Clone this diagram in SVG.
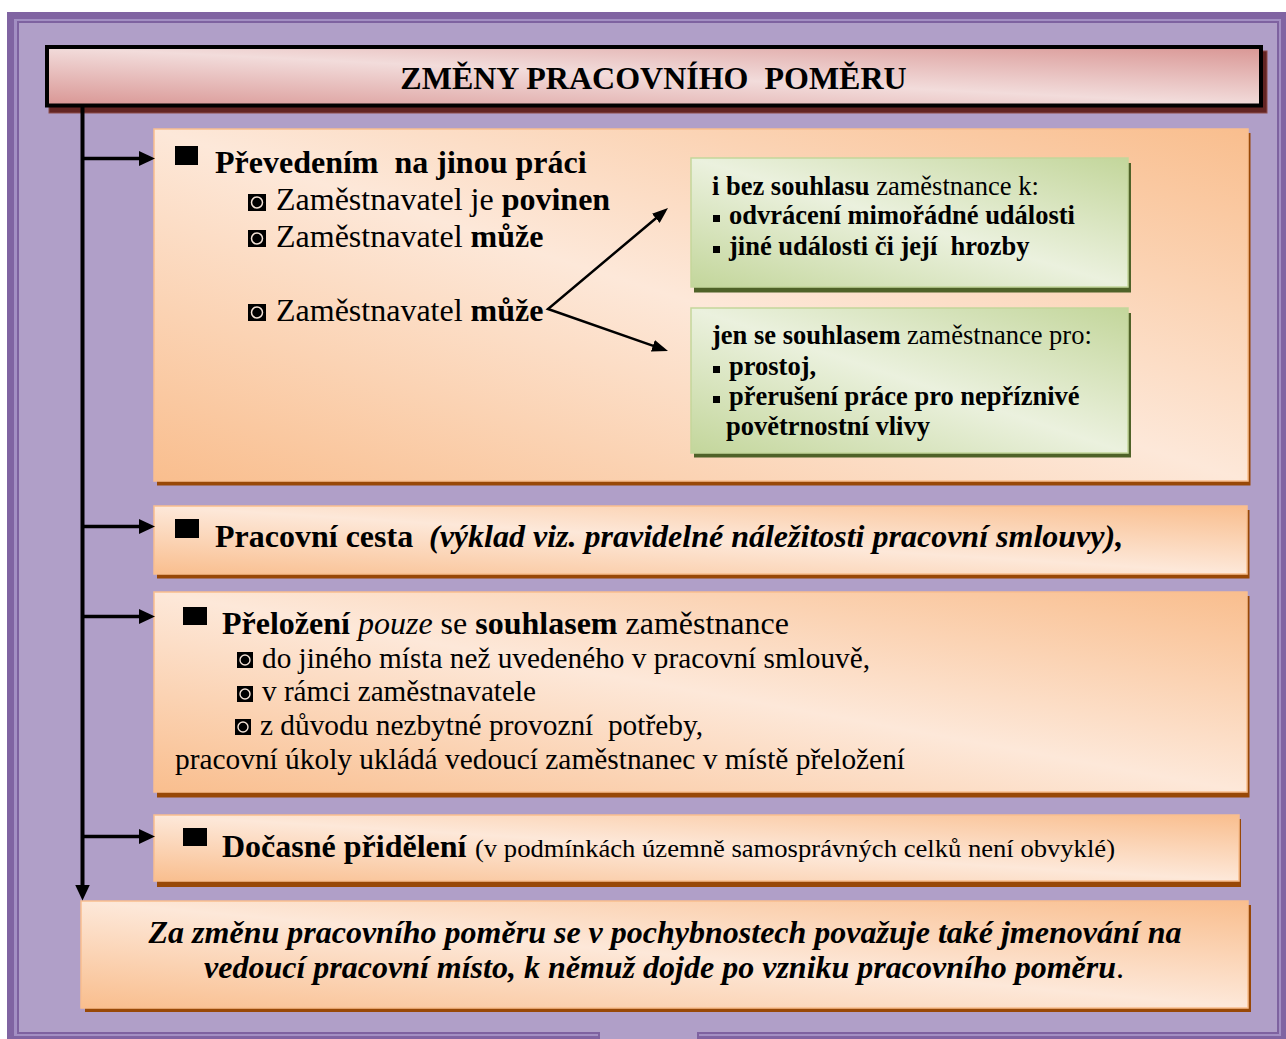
<svg xmlns="http://www.w3.org/2000/svg" width="1286" height="1039" viewBox="0 0 1286 1039">
<style>
.t{font-family:"Liberation Serif","Times New Roman",serif;fill:#000;white-space:pre}
.b{font-weight:bold}
.i{font-style:italic}
.r{font-weight:normal;font-style:normal}
.osh{fill:#984807}
.obox{fill:url(#gO);stroke:#F9BE8E;stroke-width:1.5}
.gsh{fill:#4F6228}
.gbox{fill:url(#gG);stroke:#C3D69B;stroke-width:1.5}
</style>
<defs>
<linearGradient id="gO" x1="0" y1="1" x2="1" y2="0">
<stop offset="0" stop-color="#F9BE8E"/>
<stop offset="0.5" stop-color="#FDE8D9"/>
<stop offset="1" stop-color="#F9BE8E"/>
</linearGradient>
<linearGradient id="gG" x1="0" y1="1" x2="1" y2="0">
<stop offset="0" stop-color="#C3D69B"/>
<stop offset="0.5" stop-color="#EBF1DE"/>
<stop offset="1" stop-color="#C3D69B"/>
</linearGradient>
<linearGradient id="gT" x1="0" y1="1" x2="1" y2="0">
<stop offset="0" stop-color="#D99694"/>
<stop offset="0.5" stop-color="#F2DCDB"/>
<stop offset="1" stop-color="#D99694"/>
</linearGradient>
<marker id="ah" viewBox="0 0 16 15" refX="8" refY="7.5" markerWidth="16" markerHeight="15" markerUnits="userSpaceOnUse" orient="auto">
<path d="M0,0 L16,7.5 L0,15 z" fill="#000"/>
</marker>
<marker id="ahs" viewBox="0 0 16 12" refX="8" refY="6" markerWidth="16" markerHeight="12" markerUnits="userSpaceOnUse" orient="auto-start-reverse">
<path d="M0,0 L16,6 L0,12 z" fill="#000"/>
</marker>
<g id="inv">
<rect width="18" height="17" fill="#000"/>
<circle cx="9" cy="8.5" r="5.5" fill="none" stroke="#F3E2D6" stroke-width="1.5"/>
</g>
<g id="inv2">
<rect width="16" height="16" fill="#000"/>
<circle cx="8" cy="8" r="5" fill="none" stroke="#F3E2D6" stroke-width="1.4"/>
</g>
</defs>

<g id="frame">
<rect x="7" y="12" width="1279" height="1027" fill="#8064A2"/>
<rect x="14" y="19" width="1267" height="1017" fill="#A38FC3"/>
<rect x="18" y="22" width="1260" height="1011" fill="#B09FC8" stroke="#7E62A0" stroke-width="2"/>
<rect x="600" y="1032" width="97" height="7" fill="#B09FC8"/>
<line x1="599" y1="1032" x2="599" y2="1039" stroke="#7E62A0" stroke-width="2"/>
<line x1="698" y1="1032" x2="698" y2="1039" stroke="#7E62A0" stroke-width="2"/>
</g>

<g id="title">
<rect x="49" y="51" width="1218" height="62" fill="#632523" stroke="#8C4C4B" stroke-width="1"/>
<rect x="47" y="47" width="1214" height="58.5" fill="url(#gT)" stroke="#000" stroke-width="4"/>
<text x="653.5" y="89" text-anchor="middle" class="t b" font-size="32">ZMĚNY PRACOVNÍHO  POMĚRU</text>
</g>

<g id="box-prevedeni">
<rect class="osh" x="157" y="133" width="1093.5" height="352.5"/>
<rect class="obox" x="154" y="129" width="1094" height="352"/>
<rect x="175" y="146" width="23" height="19" fill="#000"/>
<text x="215" y="173" class="t b" font-size="32">Převedením  na jinou práci</text>
<use href="#inv" x="248" y="194"/>
<text x="276" y="210" class="t" font-size="32">Zaměstnavatel je <tspan class="b">povinen</tspan></text>
<use href="#inv" x="248" y="230"/>
<text x="276" y="247" class="t" font-size="32">Zaměstnavatel <tspan class="b">může</tspan></text>
<use href="#inv" x="248" y="304"/>
<text x="276" y="321" class="t" font-size="32">Zaměstnavatel <tspan class="b">může</tspan></text>
</g>

<g id="box-bez-souhlasu">
<rect class="gsh" x="694" y="163" width="437" height="129.5"/>
<rect class="gbox" x="691" y="158" width="437" height="129"/>
<text x="712" y="195" class="t" font-size="26.5"><tspan class="b">i bez souhlasu</tspan> zaměstnance k:</text>
<rect x="713" y="215" width="7" height="7" fill="#000"/>
<text x="729" y="224" class="t b" font-size="26.5">odvrácení mimořádné události</text>
<rect x="713" y="246" width="7" height="7" fill="#000"/>
<text x="729" y="255" class="t b" font-size="26.5">jiné události či její  hrozby</text>
</g>

<g id="box-se-souhlasem">
<rect class="gsh" x="694" y="313" width="437" height="144.5"/>
<rect class="gbox" x="691" y="308" width="437" height="145"/>
<text x="712" y="344" class="t" font-size="26.5"><tspan class="b">jen se souhlasem</tspan> zaměstnance pro:</text>
<rect x="713" y="366" width="7" height="7" fill="#000"/>
<text x="729" y="375" class="t b" font-size="26.5">prostoj,</text>
<rect x="713" y="396" width="7" height="7" fill="#000"/>
<text x="729" y="405" class="t b" font-size="26.5">přerušení práce pro nepříznivé</text>
<text x="726" y="435" class="t b" font-size="26.5">povětrnostní vlivy</text>
</g>

<g id="box-cesta">
<rect class="osh" x="157" y="510" width="1092.5" height="68.5"/>
<rect class="obox" x="154" y="506" width="1093" height="68"/>
<rect x="175" y="519" width="24" height="19" fill="#000"/>
<text x="215" y="547" class="t b" font-size="32">Pracovní cesta</text>
<text x="429" y="547" class="t b i" font-size="32">(výklad viz. pravidelné náležitosti pracovní smlouvy),</text>
</g>

<g id="box-prelozeni">
<rect class="osh" x="157" y="596" width="1092.5" height="201.5"/>
<rect class="obox" x="154" y="592" width="1093" height="200"/>
<rect x="183" y="607" width="24" height="18" fill="#000"/>
<text x="222" y="634" class="t" font-size="32"><tspan class="b">Přeložení</tspan> <tspan class="i">pouze</tspan> se <tspan class="b">souhlasem</tspan> zaměstnance</text>
<use href="#inv2" x="237" y="652"/>
<text x="262" y="668" class="t" font-size="30" textLength="608" lengthAdjust="spacingAndGlyphs">do jiného místa než uvedeného v pracovní smlouvě,</text>
<use href="#inv2" x="237" y="686"/>
<text x="262" y="701" class="t" font-size="30" textLength="274" lengthAdjust="spacingAndGlyphs">v rámci zaměstnavatele</text>
<use href="#inv2" x="235" y="719"/>
<text x="260" y="735" class="t" font-size="30" textLength="443" lengthAdjust="spacingAndGlyphs">z důvodu nezbytné provozní  potřeby,</text>
<text x="175" y="769" class="t" font-size="30" textLength="730" lengthAdjust="spacingAndGlyphs">pracovní úkoly ukládá vedoucí zaměstnanec v místě přeložení</text>
</g>

<g id="box-prideleni">
<rect class="osh" x="157" y="819" width="1084" height="68"/>
<rect class="obox" x="154" y="815" width="1085" height="66"/>
<rect x="183" y="828" width="24" height="18" fill="#000"/>
<text x="222" y="857" class="t b" font-size="32">Dočasné přidělení</text>
<text x="475" y="857" class="t" font-size="25" textLength="640" lengthAdjust="spacingAndGlyphs">(v podmínkách územně samosprávných celků není obvyklé)</text>
</g>

<g id="box-jmenovani">
<rect class="osh" x="85" y="905" width="1166" height="107"/>
<rect class="obox" x="81" y="901" width="1167" height="107"/>
<text x="665" y="943" text-anchor="middle" class="t b i" font-size="32">Za změnu pracovního poměru se v pochybnostech považuje také jmenování na</text>
<text x="664" y="978" text-anchor="middle" class="t b i" font-size="32">vedoucí pracovní místo, k němuž dojde po vzniku pracovního poměru<tspan class="r">.</tspan></text>
</g>

<g id="connectors" fill="none" stroke="#000">
<line x1="82.5" y1="106" x2="82.5" y2="892.5" stroke-width="4" marker-end="url(#ah)"/>
<line x1="82.5" y1="158.5" x2="147" y2="158.5" stroke-width="3.5" marker-end="url(#ah)"/>
<line x1="82.5" y1="526.5" x2="147" y2="526.5" stroke-width="3.5" marker-end="url(#ah)"/>
<line x1="82.5" y1="616.5" x2="147" y2="616.5" stroke-width="3.5" marker-end="url(#ah)"/>
<line x1="82.5" y1="836.5" x2="147" y2="836.5" stroke-width="3.5" marker-end="url(#ah)"/>
<path d="M661.9,213.2 L548,309 L660.45,348.36" stroke-width="2.5" stroke-linejoin="miter" marker-start="url(#ahs)" marker-end="url(#ahs)"/>
</g>
</svg>
